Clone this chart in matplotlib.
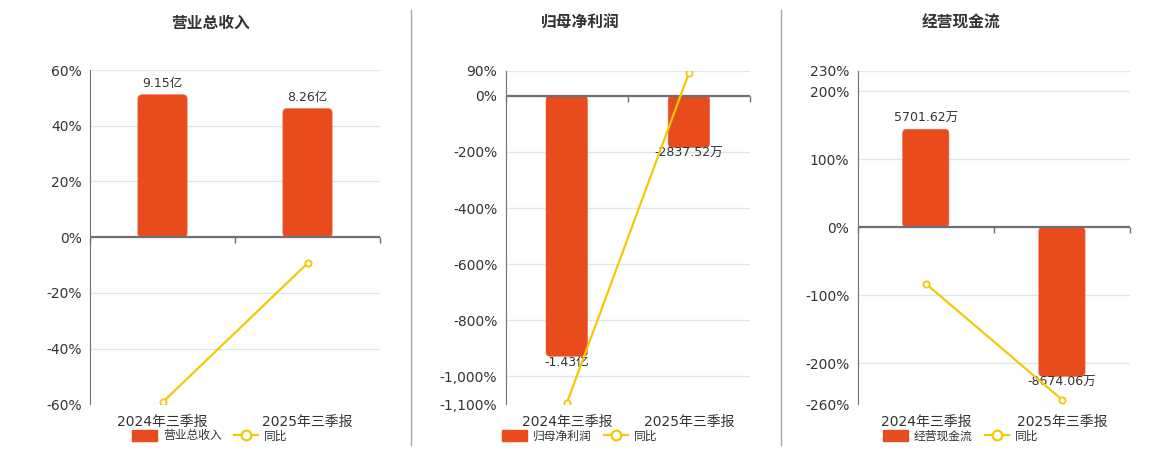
import matplotlib
matplotlib.use('agg')
import matplotlib.pyplot as plt
from matplotlib.patches import FancyBboxPatch, Patch
from matplotlib.lines import Line2D
from matplotlib.ticker import FuncFormatter

plt.rcParams['font.family'] = ['DejaVu Sans', 'Noto Sans CJK SC']

categories = ['2024年三季报', '2025年三季报']

revenue = [9.15, 8.26]              # 亿
revenue_labels = ['9.15亿', '8.26亿']
revenue_yoy = [-59.3, -9.4]

profit = [-14300, -2837.52]         # 万
profit_labels = ['-1.43亿', '-2837.52万']
profit_yoy = [-1096, 82]

cash = [5701.62, -8674.06]          # 万
cash_labels = ['5701.62万', '-8674.06万']
cash_yoy = [-82.8, -253]

BAR = '#E84C1D'
LINE = '#F3C905'
GRID = '#E0E6F1'
AXIS = '#6E7079'
TEXT = '#333333'

W, H = 1160, 450

# (title, name, values, labels, yoy, ticks, bar units per %, axes box in px, title/legend centre)
panels = [
    ('营业总收入', '营业总收入', revenue, revenue_labels, revenue_yoy,
     [-60, -40, -20, 0, 20, 40, 60], 0.179, (90, 380, 70, 404.3), 210),
    ('归母净利润', '归母净利润', profit, profit_labels, profit_yoy,
     [-1100, -1000, -800, -600, -400, -200, 0, 90], 15.4, (505.7, 750, 70.7, 404.3), 580),
    ('经营现金流', '经营现金流', cash, cash_labels, cash_yoy,
     [-260, -200, -100, 0, 100, 200, 230], 39.6, (857.7, 1130, 70.7, 404.3), 961),
]

fig = plt.figure(figsize=(W / 100, H / 100), dpi=100)

for title, name, vals, labels, yoy, ticks, scale, box, cx in panels:
    l, r, t, b = box
    ax = fig.add_axes([l / W, 1 - b / H, (r - l) / W, (b - t) / H])
    lo, hi = ticks[0], ticks[-1]
    ax.set_xlim(-0.5, 1.5)
    ax.set_ylim(lo, hi)
    ax.set_yticks(ticks)
    ax.yaxis.set_major_formatter(FuncFormatter(lambda v, p: f'{v:,.0f}%'))
    ax.tick_params(axis='y', length=0, labelsize=10, labelcolor=TEXT, pad=6)
    ax.set_xticks(range(len(categories)))
    ax.set_xticklabels(categories)
    ax.tick_params(axis='x', length=0, labelsize=10, labelcolor=TEXT, pad=8)
    for s in ['top', 'right', 'bottom']:
        ax.spines[s].set_visible(False)
    ax.spines['left'].set_color(AXIS)
    for v in ticks:
        ax.axhline(v, color=GRID, lw=1, zorder=0)

    # bars on their own hidden scale, zero aligned with 0%
    axb = ax.twinx()
    axb.set_ylim(lo * scale, hi * scale)
    axb.set_xlim(-0.5, 1.5)
    axb.axis('off')
    bars = axb.bar(range(len(vals)), vals, width=0.34, color=BAR)
    # rounded corners
    px_x = (r - l) / 2.0
    px_y = (b - t) / ((hi - lo) * scale)
    aspect = px_x / px_y
    rad = 4 / px_x
    for rect in bars:
        x0, w = rect.get_x(), rect.get_width()
        y0, h = rect.get_y(), rect.get_height()
        if h < 0:
            y0, h = y0 + h, -h
        fb = FancyBboxPatch((x0, y0), w, h,
                            boxstyle=f'round,pad=0,rounding_size={rad}',
                            mutation_aspect=aspect, facecolor=BAR,
                            edgecolor='#EE6840', lw=0.4)
        rect.remove()
        axb.add_patch(fb)
    for i, (v, lab) in enumerate(zip(vals, labels)):
        off = 11 if v >= 0 else -6
        axb.annotate(lab, (i, v), xytext=(0, off), textcoords='offset pixels',
                     ha='center', va='center', fontsize=9, color=TEXT, zorder=5)

    # line on top
    axl = ax.twinx()
    axl.set_ylim(lo, hi)
    axl.set_xlim(-0.5, 1.5)
    axl.axis('off')
    axl.axhline(0, color=AXIS, lw=1.6, zorder=3)
    axl.plot(range(len(yoy)), yoy, color=LINE, lw=1.6, marker='o', ms=4.5,
             mfc='white', mec=LINE, mew=1.3, zorder=4)
    sec = axl.secondary_xaxis((0 - lo) / (hi - lo))
    sec.xaxis.set_ticks_position('bottom')
    sec.set_xticks([-0.5, 0.5, 1.5])
    sec.set_xticklabels([])
    sec.tick_params(length=4, color=AXIS, width=1, direction='out')
    sec.spines['bottom'].set_visible(False)
    sec.spines['top'].set_visible(False)

    fig.text(cx / W, 1 - 23 / H, title, ha='center', va='center',
             fontsize=11.3, fontweight='bold', color=TEXT)
    handles = [Patch(facecolor=BAR, edgecolor=BAR),
               Line2D([], [], color=LINE, lw=1.6, marker='o', ms=7,
                      mfc='white', mec=LINE, mew=1.6)]
    fig.legend(handles, [name, '同比'], loc='center', bbox_to_anchor=(cx / W, 1 - 436 / H),
               ncol=2, frameon=False, fontsize=8.5, handlelength=2.1, handleheight=1.0,
               handletextpad=0.5, columnspacing=1.0, labelcolor=TEXT,
               borderpad=0, borderaxespad=0)

for xd in [410.5, 781]:
    fig.add_artist(Line2D([xd / W, xd / W], [1 - 10 / H, 1 - 445 / H],
                          color='#A8A8A8', lw=1, transform=fig.transFigure))

fig.savefig('out.png', dpi=100, facecolor='white')
plt.close(fig)
